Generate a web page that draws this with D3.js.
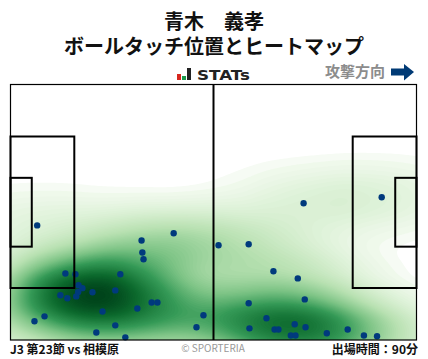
<!DOCTYPE html>
<html>
<head>
<meta charset="utf-8">
<script src="https://cdn.jsdelivr.net/npm/d3@7/dist/d3.min.js"></script>
<style>
  html, body { margin: 0; padding: 0; background: #fff; }
  svg { display: block; }
  text { font-family: "Noto Sans CJK JP", "Noto Sans", sans-serif; }
</style>
</head>
<body>
<svg id="chart" width="428" height="359"></svg>
<script>
// ball touches in pitch metres
const touchX = [6.9, 33.9, 34.1, 34.4, 42.2, 14.2, 16.8, 28.4, 17.6, 18.6, 17.5, 17.0, 21.2, 27.1, 12.9, 14.7, 36.5, 38.0, 23.8, 32.8, 8.8, 6.2, 49.9, 48.1, 27.1, 22.2, 29.7, 75.8, 96.0, 53.8, 61.6, 68.0, 74.3, 76.1, 61.6, 66.2, 61.8, 68.3, 69.3, 73.5, 76.3, 72.5, 73.7, 81.8, 87.2, 91.4, 94.8]
const touchY = [37.5, 41.5, 44.7, 46.5, 39.6, 50.3, 50.5, 50.5, 53.4, 54.2, 55.2, 56.4, 55.3, 54.8, 56.1, 56.9, 58.0, 58.0, 60.4, 59.6, 61.7, 63.0, 61.4, 64.6, 64.1, 66.0, 67.3, 31.6, 30.0, 42.8, 42.5, 49.7, 51.6, 57.2, 58.2, 62.2, 64.9, 65.2, 65.2, 63.8, 64.6, 66.8, 66.8, 66.2, 65.2, 66.8, 67.0]

const pitchLength = 105
const pitchWidth = 68
const penaltyDepth = 16.5
const penaltySpan = 40.32
const goalDepth = 5.5
const goalSpan = 18.32

const titleLines = ['青木\u3000義孝', 'ボールタッチ位置とヒートマップ']
const footerLeft = 'J3 第23節 vs 相模原'
const footerRight = '出場時間：90分'
const footerCenter = '© SPORTERIA'
const directionLabel = '攻撃方向'
const logoBars = [
  { h: 6, color: '#d7261e' },
  { h: 4, color: '#1a9a4a' },
  { h: 12, color: '#222' }
]

const svg = d3.select('#chart')
const x = d3.scaleLinear().domain([0, pitchLength]).range([10.5, 416.5])
const y = d3.scaleLinear().domain([0, pitchWidth]).range([84.5, 340])

// Title
svg.selectAll('text.title')
  .data(titleLines)
  .join('text')
  .attr('class', 'title')
  .attr('x', 214)
  .attr('y', (d, i) => 29 + i * 24.5)
  .attr('text-anchor', 'middle')
  .attr('font-size', 20)
  .attr('font-weight', 700)
  .attr('fill', '#111')
  .text(d => d)

// STATs logo
svg.selectAll('rect.logo')
  .data(logoBars)
  .join('rect')
  .attr('class', 'logo')
  .attr('x', (d, i) => 177 + i * 5)
  .attr('y', d => 80 - d.h)
  .attr('width', 4)
  .attr('height', d => d.h)
  .attr('fill', d => d.color)
svg.append('text')
  .attr('x', 197)
  .attr('y', 79.5)
  .attr('font-size', 14)
  .attr('font-weight', 700)
  .attr('fill', '#222')
  .attr('textLength', 53)
  .attr('lengthAdjust', 'spacingAndGlyphs')
  .style('font-family', '"DejaVu Sans", sans-serif')
  .text('STATs')

// Attack direction
svg.append('text')
  .attr('x', 385)
  .attr('y', 77)
  .attr('text-anchor', 'end')
  .attr('font-size', 15)
  .attr('font-weight', 700)
  .attr('fill', '#8c8c8c')
  .text(directionLabel)
svg.append('path')
  .attr('d', 'M391 68.5H404V64L414 72L404 80.5V75.5H391Z')
  .attr('fill', '#003a75')

// Heat map
const clip = svg.append('clipPath').attr('id', 'pitch-clip')
clip.append('rect')
  .attr('x', x(0))
  .attr('y', y(0))
  .attr('width', x(pitchLength) - x(0))
  .attr('height', y(pitchWidth) - y(0))

const touches = touchX.map((d, i) => [x(d), y(touchY[i])])
const stretch = 2.3 // x bandwidth is wider than y
const density = d3.contourDensity()
  .x(d => (d[0] + 200) / stretch)
  .y(d => d[1])
  .size([900 / stretch, 480])
  .cellSize(1)
  .bandwidth(21)
  .thresholds(70)(touches)

const maxDensity = d3.max(density, d => d.value)
const colour = d3.scaleLinear()
  .domain([0, 0.02, 0.1, 0.25, 0.42, 0.6, 0.82, 1].map(d => d * maxDensity))
  .range(['#ffffff', '#f0f9ec', '#dcf1d6', '#b9e1b2', '#7fc587', '#359a57', '#0d6b2e', '#00441b'])

svg.append('g')
  .attr('clip-path', 'url(#pitch-clip)')
  .append('g')
  .attr('transform', `translate(-200,0) scale(${stretch},1)`)
  .selectAll('path')
  .data(density)
  .join('path')
  .attr('d', d3.geoPath())
  .attr('fill', d => colour(d.value))

// Touch points
svg.append('g')
  .selectAll('circle')
  .data(touches)
  .join('circle')
  .attr('cx', d => d[0])
  .attr('cy', d => d[1])
  .attr('r', 3.2)
  .attr('fill', '#003a7d')

// Pitch lines
const lines = svg.append('g')
  .attr('fill', 'none')
  .attr('stroke', '#000')

function box (x0, x1, span, width) {
  lines.append('rect')
    .attr('x', x(x0))
    .attr('y', y((pitchWidth - span) / 2))
    .attr('width', x(x1) - x(x0))
    .attr('height', y((pitchWidth + span) / 2) - y((pitchWidth - span) / 2))
    .attr('stroke-width', width)
}

box(0, penaltyDepth, penaltySpan, 2)
box(0, goalDepth, goalSpan, 2)
box(pitchLength - penaltyDepth, pitchLength, penaltySpan, 2)
box(pitchLength - goalDepth, pitchLength, goalSpan, 2)

lines.append('line')
  .attr('x1', x(pitchLength / 2))
  .attr('x2', x(pitchLength / 2))
  .attr('y1', y(0))
  .attr('y2', y(pitchWidth))
  .attr('stroke-width', 2)
lines.append('rect')
  .attr('x', x(0))
  .attr('y', y(0))
  .attr('width', x(pitchLength) - x(0))
  .attr('height', y(pitchWidth) - y(0))
  .attr('stroke-width', 1.2)

// Footer
svg.append('text')
  .attr('x', 10)
  .attr('y', 354)
  .attr('font-size', 12)
  .attr('font-weight', 700)
  .attr('fill', '#111')
  .text(footerLeft)
svg.append('text')
  .attr('x', 213)
  .attr('y', 352)
  .attr('text-anchor', 'middle')
  .attr('font-size', 10)
  .attr('fill', '#999')
  .text(footerCenter)
svg.append('text')
  .attr('x', 418)
  .attr('y', 354)
  .attr('text-anchor', 'end')
  .attr('font-size', 12)
  .attr('font-weight', 700)
  .attr('fill', '#111')
  .text(footerRight)
</script>
</body>
</html>
